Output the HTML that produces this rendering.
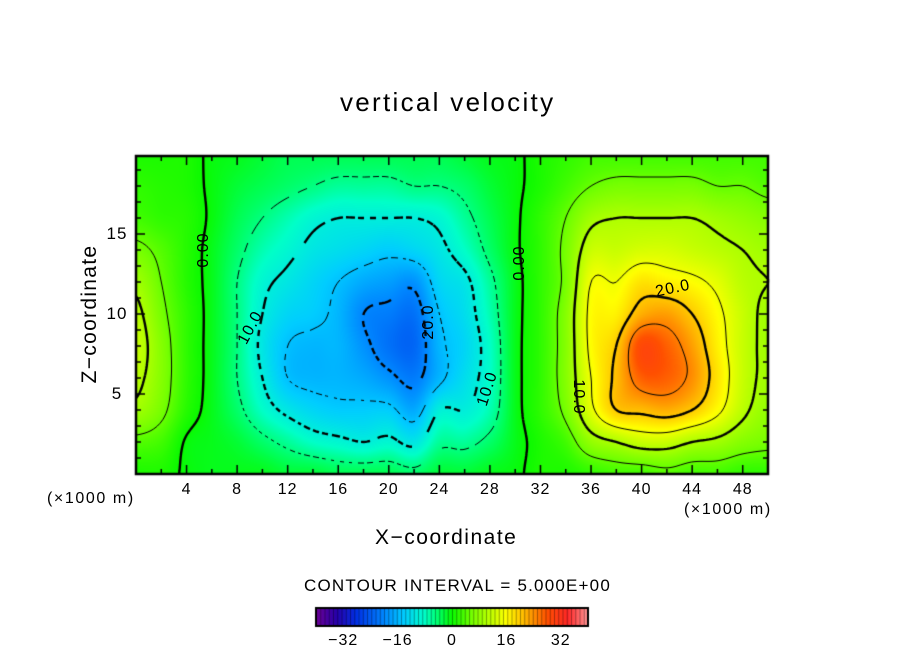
<!DOCTYPE html>
<html><head><meta charset="utf-8"><style>
body{margin:0;background:#fff;width:904px;height:654px;position:relative;overflow:hidden;font-family:"Liberation Sans","DejaVu Sans",sans-serif;color:#000}
.t{position:absolute;white-space:nowrap;font-size:17px}
canvas{position:absolute;left:0;top:0}
</style></head><body>
<div class="t" style="left:340px;top:87px;font-size:26px;letter-spacing:2.3px">vertical velocity</div>
<div class="t" style="left:10px;top:302px;font-size:21px;letter-spacing:1.3px;transform:rotate(-90deg);transform-origin:center;width:160px;text-align:center">Z−coordinate</div>
<div class="t" style="left:375px;top:526px;font-size:21px;letter-spacing:1.5px">X−coordinate</div>
<div class="t" style="left:47px;top:490px;font-size:16px;letter-spacing:1.6px">(×1000 m)</div>
<div class="t" style="left:684px;top:501px;font-size:16px;letter-spacing:1.6px">(×1000 m)</div>
<div class="t" style="left:304px;top:576px;font-size:17px;letter-spacing:1.2px">CONTOUR INTERVAL = 5.000E+00</div>
<canvas id="cv" width="904" height="654"></canvas>
<div id="labels"></div>
<script>
const xCoords=[0,2,4,6,8,10,12,14,16,18,20,22,24,26,28,30,32,34,36,38,40,42,44,46,48,50];
const zCoords=[0,2,4,6,8,10,12,14,16,18,20];
const w0=[1,1,-0.4,-1,-1,-1,-2,-2,-3,-3,-3,-4,-2,-2,-1,-0.5,1,1,2,3,3,4,3,3,2,2];
const w2=[4,3,-0.3,-1,-2,-4,-6,-8,-9,-10,-9,-11,-6,-6,-4,-1,1,3,8,10,12,12,10,9,7,6];
const w4=[9,6,1.5,-1,-4,-8,-11,-13,-14,-14,-14,-17,-10,-10,-7,-1,2,6,14,20,21,22,20,16,11,8];
const w6=[11,7,2,-1,-5,-10,-15,-16,-16,-17,-19,-21,-16,-12,-8,-1,2,7,15,21,27,27,24,18,12,9];
const w8=[12,7,2,-1,-5,-11,-15,-16,-16,-19,-22,-23,-16,-13,-8,-1,2,7,16,20,29,27,23,17,12,9];
const w10=[11,6,2,-1,-5,-10,-13,-14,-16,-20,-21,-22,-15,-12,-7,-1,2,7,16,17,22,23,20,16,12,9];
const w12=[9,5,1.5,-1,-5,-9,-11,-13,-15,-17,-18,-19,-13,-11,-6,-1,2,6,15,15,18,17,16,14,11,10];
const w14=[6,4,1.5,-1,-4,-7,-9,-11,-12,-13,-14,-13,-11,-8,-4,-0.5,2,6,12,12,13,13,12,11,10,9];
const w16=[3,2,1.5,-0.5,-3,-5,-7,-9,-10,-10,-10,-10,-9,-6,-3,-0.5,2,5,9,10,10,10,10,9,8,7];
const w18=[2,1.5,1,-0.5,-2,-3,-4,-5,-6,-6,-6,-5,-5,-4,-2,-0.5,1,3,5,6,6,6,6,5,5,4];
const w20=[1,1,1,-0.5,-1,-2,-3,-3,-3,-3,-3,-3,-3,-2,-1,-0.5,1,2,3,3,3,3,3,3,3,3];
const rows=[w0,w2,w4,w6,w8,w10,w12,w14,w16,w18,w20];
const levels=[-25,-20,-15,-10,-5,0,5,10,15,20,25];
const xTicks=[4,8,12,16,20,24,28,32,36,40,44,48];
const zTicks=[5,10,15];
const cbTicks=[-32,-16,0,16,32];

const L=136,R=768,T=156,B=474,XMAX=50,ZMAX=19.875;
const sx=x=>L+x/XMAX*(R-L), sz=z=>B-z/ZMAX*(B-T);
function cr(p0,p1,p2,p3,t){return 0.5*((2*p1)+(-p0+p2)*t+(2*p0-5*p1+4*p2-p3)*t*t+(-p0+3*p1-3*p2+p3)*t*t*t);}
function g(i,j){i=Math.max(0,Math.min(rows.length-1,i));j=Math.max(0,Math.min(xCoords.length-1,j));return rows[i][j];}
function field(x,z){
 const fx=x/(xCoords[1]-xCoords[0]), fz=z/(zCoords[1]-zCoords[0]);
 const j=Math.floor(fx), i=Math.floor(fz), tx=fx-j, tz=fz-i;
 const r=[];for(let k=-1;k<3;k++)r.push(cr(g(i+k,j-1),g(i+k,j),g(i+k,j+1),g(i+k,j+2),tx));
 return cr(r[0],r[1],r[2],r[3],tz);
}
const stops=[[-40,110,0,150],[-34,40,0,170],[-28,0,50,230],[-20,0,135,255],[-14,0,205,255],[-8,0,255,200],[-3,0,255,80],[0,10,250,0],[6,120,255,0],[12,200,255,0],[16,255,255,0],[22,255,175,0],[28,255,80,0],[34,255,40,40],[40,255,150,150]];
function cmap(v){
 if(v<=stops[0][0])return stops[0].slice(1);
 for(let k=1;k<stops.length;k++){if(v<=stops[k][0]){const a=stops[k-1],b=stops[k],t=(v-a[0])/(b[0]-a[0]);return [a[1]+(b[1]-a[1])*t,a[2]+(b[2]-a[2])*t,a[3]+(b[3]-a[3])*t];}}
 return stops[stops.length-1].slice(1);
}
const cv=document.getElementById('cv'),c=cv.getContext('2d');
const W=R-L,H=B-T,img=c.createImageData(W,H);
for(let py=0;py<H;py++)for(let px=0;px<W;px++){
 const x=(px+0.5)/W*XMAX,z=(H-py-0.5)/H*ZMAX;const col=cmap(field(x,z));const o=(py*W+px)*4;
 img.data[o]=col[0];img.data[o+1]=col[1];img.data[o+2]=col[2];img.data[o+3]=255;}
c.putImageData(img,L,T);
const st=3,nx=Math.ceil(W/st),nz=Math.ceil(H/st),F=[];
for(let a=0;a<=nz;a++){F.push([]);for(let b=0;b<=nx;b++){const px=Math.min(W,b*st),py=Math.min(H,a*st);F[a].push(field(px/W*XMAX,(H-py)/H*ZMAX));}}
levels.forEach(lv=>{
 const thick=lv%10===0;c.strokeStyle='#000';c.lineWidth=thick?2.4:1;c.beginPath();
 for(let a=0;a<nz;a++)for(let b=0;b<nx;b++){
  const v=[F[a][b],F[a][b+1],F[a+1][b+1],F[a+1][b]];
  const P=[[b,a],[b+1,a],[b+1,a+1],[b,a+1]];const pts=[];
  for(let e=0;e<4;e++){const v1=v[e],v2=v[(e+1)%4];if((v1<lv)!==(v2<lv)){const t=(lv-v1)/(v2-v1),p1=P[e],p2=P[(e+1)%4];pts.push([L+(p1[0]+(p2[0]-p1[0])*t)*st,T+(p1[1]+(p2[1]-p1[1])*t)*st]);}}
  for(let k=0;k+1<pts.length;k+=2){
   const mx=(pts[k][0]+pts[k+1][0])/2,my=(pts[k][1]+pts[k+1][1])/2;
   if(lv<0){const per=thick?12:10;if(((mx+my)%per+per)%per>per*0.6)continue;}
   c.moveTo(Math.max(L,Math.min(R,pts[k][0])),pts[k][1]);c.lineTo(Math.max(L,Math.min(R,pts[k+1][0])),pts[k+1][1]);}
 }
 c.stroke();
});
c.strokeStyle='#000';c.lineWidth=2.5;c.strokeRect(L,T,W,H);c.lineWidth=1.5;c.beginPath();
for(let x=2;x<XMAX;x+=2){const len=(x%4===0)?9:5;c.moveTo(sx(x),B);c.lineTo(sx(x),B-len);c.moveTo(sx(x),T);c.lineTo(sx(x),T+len);}
for(let z=1;z<ZMAX;z+=1){const len=(z%5===0)?9:5;c.moveTo(L,sz(z));c.lineTo(L+len,sz(z));c.moveTo(R,sz(z));c.lineTo(R-len,sz(z));}
c.stroke();
const CL=316,CR=588,CT=608,CB=626;
for(let px=CL;px<CR;px++){const v=-40+(px-CL+0.5)/(CR-CL)*80;const col=cmap(v);c.fillStyle=`rgb(${col[0]|0},${col[1]|0},${col[2]|0})`;c.fillRect(px,CT,1,CB-CT);}
c.fillStyle='rgba(0,0,0,0.35)';for(let v=-40;v<40;v+=1.25){c.fillRect(CL+(v+40)/80*(CR-CL),CT,1,CB-CT);}
c.strokeStyle='#000';c.lineWidth=2;c.strokeRect(CL,CT,CR-CL,CB-CT);
const lab=document.getElementById('labels');
function addText(txt,x,y,rot,name,size){const d=document.createElement('div');d.className='t';d.textContent=txt;
 
 
 d.style.left=x+'px';d.style.top=y+'px';d.style.fontSize=(size||16)+'px';d.style.letterSpacing='1px';d.style.transform=`translate(-50%,-50%) rotate(${rot}deg)`;lab.appendChild(d);}
xTicks.forEach(v=>addText(String(v),sx(v),490,0,'x-tick-label',16));
zTicks.forEach(v=>addText(String(v),117,sz(v),0,'z-tick-label',17));
cbTicks.forEach(v=>addText(v<0?'−'+(-v):String(v),CL+(v+40)/80*(CR-CL),641,0,'colorbar-tick-label',16));
addText('0.00',204,250,-90,'contour-label',16);
addText('10.0',251,328,-62,'contour-label',16);
addText('20.0',429,322,-90,'contour-label',16);
addText('10.0',488,389,-72,'contour-label',16);
addText('0.00',520,263,-90,'contour-label',16);
addText('20.0',673,289,-12,'contour-label',16);
addText('10.0',578,397,90,'contour-label',16);
</script>
</body></html>
